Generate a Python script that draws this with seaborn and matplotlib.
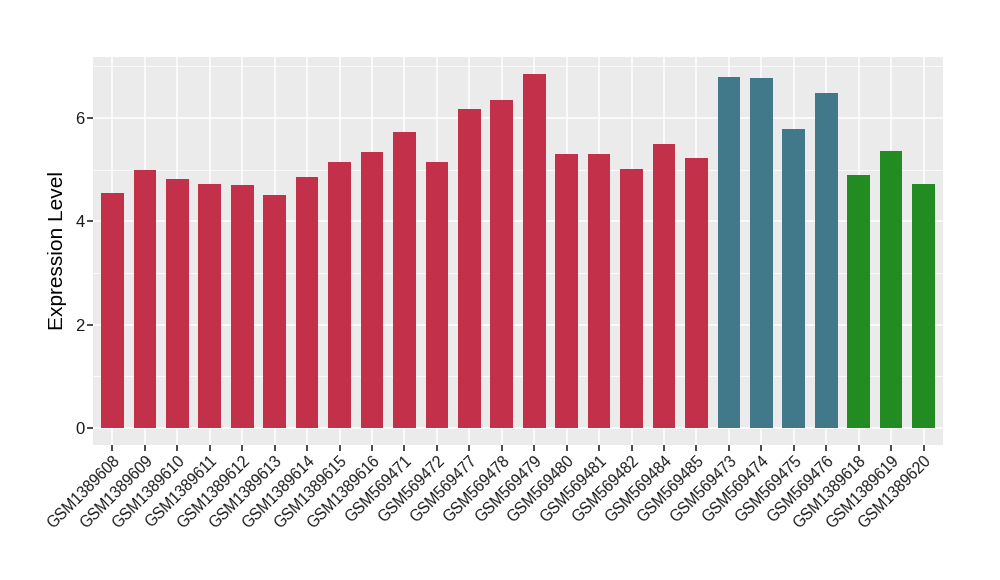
import matplotlib
matplotlib.use("Agg")
import matplotlib.pyplot as plt
import pandas as pd
import seaborn as sns
from matplotlib.ticker import MultipleLocator

# Data
samples = [
    "GSM1389608", "GSM1389609", "GSM1389610", "GSM1389611", "GSM1389612",
    "GSM1389613", "GSM1389614", "GSM1389615", "GSM1389616", "GSM569471",
    "GSM569472", "GSM569477", "GSM569478", "GSM569479", "GSM569480",
    "GSM569481", "GSM569482", "GSM569484", "GSM569485", "GSM569473",
    "GSM569474", "GSM569475", "GSM569476", "GSM1389618", "GSM1389619",
    "GSM1389620",
]
values = [
    4.55, 4.99, 4.82, 4.72, 4.70, 4.51, 4.86, 5.15, 5.34, 5.73,
    5.15, 6.17, 6.35, 6.85, 5.30, 5.30, 5.01, 5.50, 5.23,
    6.79, 6.77, 5.79, 6.48,
    4.90, 5.36, 4.72,
]
groups = ["A"] * 19 + ["B"] * 4 + ["C"] * 3
group_colors = {"A": "#C3304A", "B": "#41788A", "C": "#228B22"}

df = pd.DataFrame({"sample": samples, "value": values, "group": groups})

sns.set_theme(style="darkgrid")
plt.rcParams["font.family"] = ["Liberation Sans", "DejaVu Sans"]

fig = plt.figure(figsize=(10, 5.8), dpi=100)
ax = fig.add_axes([0.093, 0.2328, 0.85, 0.669])

sns.barplot(data=df, x="sample", y="value", hue="group", palette=group_colors,
            dodge=False, width=0.7, legend=False, saturation=1,
            linewidth=0, edgecolor="none", ax=ax)

ax.set_facecolor("#EBEBEB")
ax.set_xlim(-0.6, len(samples) - 0.4)
ax.set_ylim(-0.33, 7.18)
ax.yaxis.set_major_locator(MultipleLocator(2))
ax.yaxis.set_minor_locator(MultipleLocator(1))
ax.grid(which="major", color="white", linewidth=1.1)
ax.grid(which="minor", axis="y", color="white", linewidth=0.55)
ax.set_axisbelow(True)
for s in ax.spines.values():
    s.set_visible(False)

ax.set_xlabel("")
ax.set_ylabel("Expression Level", fontsize=15, color="black", labelpad=6)
ax.tick_params(axis="both", which="major", length=4, color="#333333",
               labelsize=12, labelcolor="#1A1A1A", pad=2, bottom=True, left=True)
ax.tick_params(axis="x", labelsize=11.2)
ax.tick_params(axis="y", which="minor", length=0)
plt.setp(ax.get_xticklabels(), rotation=45, ha="right", rotation_mode="anchor")

fig.savefig("out.png", dpi=100)
plt.close(fig)
